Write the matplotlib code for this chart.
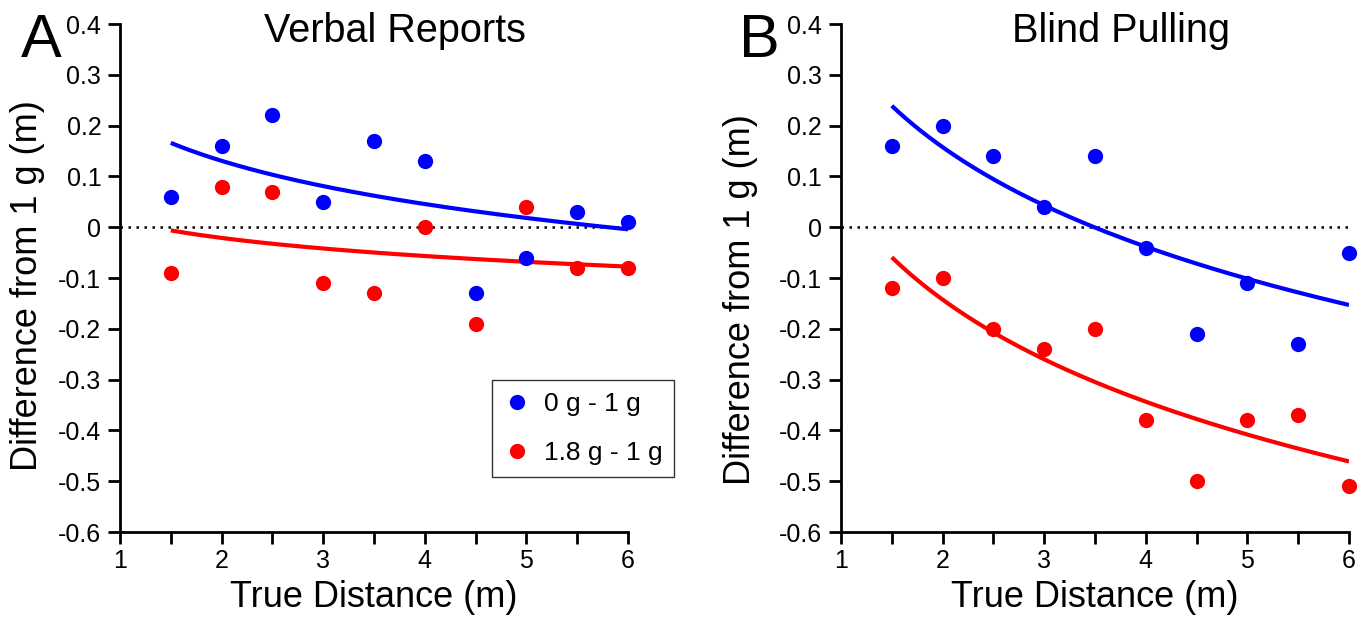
import numpy as np
import matplotlib
matplotlib.use("Agg")
import matplotlib.pyplot as plt
from matplotlib.ticker import FuncFormatter, MultipleLocator

plt.rcParams['font.family'] = ['Liberation Sans', 'DejaVu Sans']

distance = [1.5, 2, 2.5, 3, 3.5, 4, 4.5, 5, 5.5, 6]

# verbal reports
verbal_0g = [0.06, 0.16, 0.22, 0.05, 0.17, 0.13, -0.13, -0.06, 0.03, 0.01]
verbal_18g = [-0.09, 0.08, 0.07, -0.11, -0.13, 0.00, -0.19, 0.04, -0.08, -0.08]

# blind pulling
pull_0g = [0.16, 0.20, 0.14, 0.04, 0.14, -0.04, -0.21, -0.11, -0.23, -0.05]
pull_18g = [-0.12, -0.10, -0.20, -0.24, -0.20, -0.38, -0.50, -0.38, -0.37, -0.51]

labels = ['0 g - 1 g', '1.8 g - 1 g']
titles = ['Verbal Reports', 'Blind Pulling']
letters = ['A', 'B']


def fmt(v, pos):
    if abs(v) < 1e-9:
        return '0'
    return '%.1f' % v


def log_fit(x, y):
    # least squares fit of y = a + b*ln(x)
    b, a = np.polyfit(np.log(x), y, 1)
    xs = np.linspace(min(x), max(x), 200)
    return xs, a + b * np.log(xs)


W, H = 1367.0, 617.0
fig = plt.figure(figsize=(13.67, 6.17), dpi=100)
ax1 = fig.add_axes([120 / W, 1 - 532 / H, 508 / W, 508 / H])
ax2 = fig.add_axes([841 / W, 1 - 532 / H, 508 / W, 508 / H])

panels = [(ax1, verbal_0g, verbal_18g), (ax2, pull_0g, pull_18g)]
title_x = [395, 1121]
ylab_pos = [(28, 286), (741, 300)]
letter_x = [21, 739]

for i, (ax, y0, y18) in enumerate(panels):
    ax.plot([1, 6], [0, 0], color='black', linestyle=(0, (1, 2.2)), lw=1.8)
    for y, c, lab in [(y0, '#0000ff', labels[0]), (y18, '#ff0000', labels[1])]:
        xs, ys = log_fit(distance, y)
        ax.plot(xs, ys, color=c, lw=3, solid_capstyle='butt', zorder=2)
        ax.plot(distance, y, 'o', color=c, ms=11, mew=0, label=lab,
                clip_on=False, zorder=3)

    ax.set_xlim(1, 6)
    ax.set_ylim(-0.6, 0.4)
    ax.set_yticks(np.arange(-0.6, 0.41, 0.1))
    ax.yaxis.set_major_formatter(FuncFormatter(fmt))
    ax.set_xticks([1, 2, 3, 4, 5, 6])
    ax.xaxis.set_minor_locator(MultipleLocator(0.5))
    for s in ['top', 'right']:
        ax.spines[s].set_visible(False)
    for s in ['left', 'bottom']:
        ax.spines[s].set_linewidth(2)
    ax.tick_params(which='both', direction='out', length=8.5, width=2,
                   labelsize=18)
    ax.tick_params(axis='y', pad=5)
    ax.tick_params(axis='x', which='both', pad=4)

    bb = ax.get_position()
    fig.text((bb.x0 + bb.x1) / 2, 1 - 607 / H, 'True Distance (m)',
             fontsize=26, ha='center', va='baseline')
    fig.text(ylab_pos[i][0] / W, 1 - ylab_pos[i][1] / H,
             'Difference from 1 g (m)', fontsize=26, rotation=90,
             ha='center', va='center')
    fig.text(title_x[i] / W, 1 - 42 / H, titles[i], fontsize=28.5,
             ha='center', va='baseline')
    fig.text(letter_x[i] / W, 1 - 57 / H, letters[i], fontsize=44,
             ha='left', va='baseline')

leg = ax1.legend(loc='upper left', bbox_to_anchor=(0.732, 0.299), fontsize=19,
                 frameon=True, fancybox=False, edgecolor='black',
                 handletextpad=0.49, labelspacing=0.95, borderpad=0.45,
                 handlelength=1.02, borderaxespad=0, numpoints=1)
leg.get_frame().set_linewidth(1)

fig.savefig('out.png', dpi=100)
